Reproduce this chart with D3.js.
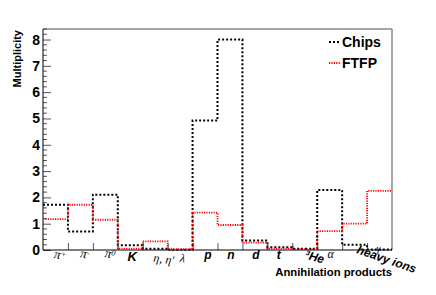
<!DOCTYPE html>
<html><head><meta charset="utf-8">
<script src="https://cdn.jsdelivr.net/npm/d3@7"></script>
<style>body{margin:0;background:#fff}svg{display:block}</style>
</head><body>
<script>
const categories = ["π+","π-","π0","K","η, η'","λ","p","n","d","t","3He","α","heavy ions","γ"];
const chips = [1.72,0.70,2.10,0.18,0.05,0.01,4.92,8.00,0.36,0.10,0.05,2.28,0.20,0.02];
const ftfp  = [1.17,1.72,1.15,0.05,0.33,0.03,1.42,0.95,0.28,0.05,0.03,0.72,1.00,2.25];
const yTicks = [0,1,2,3,4,5,6,7,8];
const seriesNames = ["Chips","FTFP"];

const W=436,H=295;
const svg=d3.select("body").append("svg").attr("width",W).attr("height",H);
const x=d3.scaleLinear().domain([0,categories.length]).range([43,392]);
const y=d3.scaleLinear().domain([0,8.4]).range([250,29]);
const sans="'Liberation Sans', Arial, sans-serif";
const serif="'Liberation Serif', 'Times New Roman', serif";

// frame
svg.append("line").attr("x1",x(0)).attr("x2",x(14)).attr("y1",y(8.4)).attr("y2",y(8.4)).attr("stroke","#888").attr("stroke-width",1.5);
svg.append("line").attr("x1",x(14)).attr("x2",x(14)).attr("y1",y(8.4)).attr("y2",y(0)).attr("stroke","#888").attr("stroke-width",1.5);

// y axis
const yAxis=d3.axisLeft(y).tickValues(yTicks).tickSize(-8).tickPadding(3).tickFormat(d3.format("d"));
const gy=svg.append("g").attr("transform",`translate(${x(0)},0)`).call(yAxis);
gy.select(".domain").remove();
gy.selectAll("text").attr("font-family",sans).attr("font-weight","bold").attr("font-size",14).attr("fill","#000");
gy.selectAll("line").attr("stroke","#555");
const minor=d3.range(0,8.41,0.2).filter(v=>Math.abs(v-Math.round(v))>0.01);
svg.append("g").selectAll("line").data(minor).join("line")
  .attr("x1",x(0)).attr("x2",x(0)+4).attr("y1",d=>y(d)).attr("y2",d=>y(d)).attr("stroke","#555");
svg.append("line").attr("x1",x(0)).attr("x2",x(0)).attr("y1",y(0)).attr("y2",y(8.4)).attr("stroke","#000");

// x axis
const gx=svg.append("g").attr("transform",`translate(0,${y(0)})`)
  .call(d3.axisBottom(x).tickValues(d3.range(1,14)).tickSize(-7).tickFormat(""));
gx.select(".domain").remove();
gx.selectAll("line").attr("stroke","#555");
svg.append("line").attr("x1",x(0)).attr("x2",x(14)).attr("y1",y(0)).attr("y2",y(0)).attr("stroke","#000");

// histograms
function stepPath(vals){
  let p=[];
  vals.forEach((v,i)=>{p.push([x(i),y(v)]);p.push([x(i+1),y(v)]);});
  return d3.line()(p);
}
svg.append("path").attr("d",stepPath(chips)).attr("fill","none").attr("stroke","#000")
  .attr("stroke-width",2).attr("stroke-dasharray","2,2");
svg.append("path").attr("d",stepPath(ftfp)).attr("fill","none").attr("stroke","#f00")
  .attr("stroke-width",1.8).attr("stroke-dasharray","1.2,1.2");

// x tick labels
const lab=svg.append("g");
function tl(i,html,dx,yb,rot,font,size,weight,style){
  const cx=x(i+0.5)+dx;
  const t=lab.append("text").attr("transform",`translate(${cx},${yb}) rotate(${rot})`)
    .attr("text-anchor","middle").attr("font-family",font).attr("font-size",size)
    .attr("font-weight",weight).attr("font-style",style);
  html(t);
}
const simple=s=>t=>t.text(s);
tl(0,t=>{t.append("tspan").text("π");t.append("tspan").attr("font-size",8).attr("dy",-3).text("+");},4,259,10,serif,13,"normal","italic");
tl(1,t=>{t.append("tspan").text("π");t.append("tspan").attr("font-size",8).attr("dy",-3).text("-");},4,258,10,serif,13,"normal","italic");
tl(2,t=>{t.append("tspan").text("π");t.append("tspan").attr("font-size",8).attr("dy",-3).text("0");},4,258,10,serif,13,"normal","italic");
tl(3,simple(categories[3]),2,261,0,sans,13,"bold","italic");
tl(4,simple(categories[4]),8,263,8,serif,12,"normal","italic");
tl(5,simple(categories[5]),2,262,8,serif,12,"normal","italic");
tl(6,simple(categories[6]),3,259,0,sans,12,"bold","italic");
tl(7,simple(categories[7]),1,259,0,sans,12,"bold","italic");
tl(8,simple(categories[8]),1,259,0,sans,12,"bold","italic");
tl(9,simple(categories[9]),-1,259,0,sans,12,"bold","italic");
tl(10,t=>{t.append("tspan").attr("font-size",7).attr("dy",-4).text("3");t.append("tspan").attr("dy",4).text("He");},9,261,15,sans,12,"bold","italic");
tl(11,simple(categories[11]),1,258,0,serif,12,"normal","italic");
lab.append("text").attr("transform",`translate(356,253) rotate(19)`).attr("font-family",sans)
  .attr("font-size",12).attr("font-weight","bold").attr("font-style","italic").text(categories[12]);
tl(13,simple(categories[13]),-1,252,0,serif,10,"normal","italic");

// axis titles
svg.append("text").attr("x",392).attr("y",276).attr("text-anchor","end").attr("font-family",sans)
  .attr("font-weight","bold").attr("font-size",11.3).text("Annihilation products");
svg.append("text").attr("transform","translate(21,30) rotate(-90)").attr("text-anchor","end").attr("font-family",sans)
  .attr("font-weight","bold").attr("font-size",11).text("Multiplicity");

// legend
const leg=svg.append("g");
const legStyles=[{c:"#000",w:2,d:"2,2",y:42},{c:"#f00",w:1.8,d:"1.2,1.2",y:63}];
seriesNames.forEach((n,i)=>{
  const s=legStyles[i];
  leg.append("line").attr("x1",329).attr("x2",340).attr("y1",s.y).attr("y2",s.y)
    .attr("stroke",s.c).attr("stroke-width",s.w).attr("stroke-dasharray",s.d);
  leg.append("text").attr("x",342).attr("y",s.y+5).attr("font-family",sans).attr("font-weight","bold")
    .attr("font-size",14).text(n);
});
</script>
</body></html>
